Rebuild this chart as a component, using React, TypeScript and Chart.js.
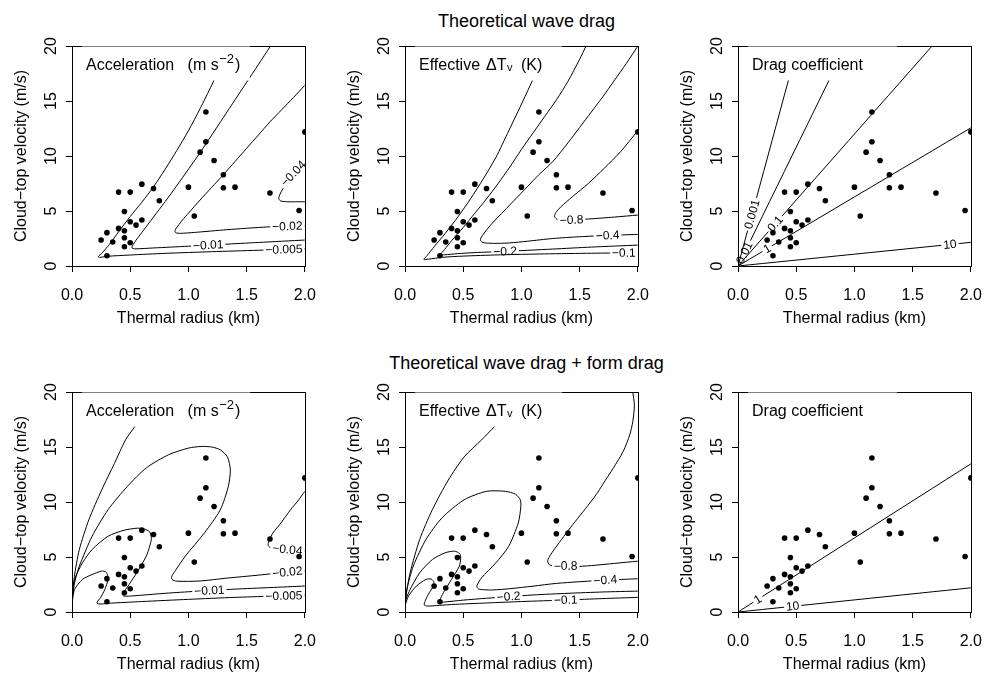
import React, { useEffect, useRef } from "react";
import { Chart, registerables } from "chart.js";

Chart.register(...registerables);

type Pt = [number, number];

const FONT = "'Liberation Sans', Arial, Helvetica, sans-serif";

// ---------------- observed thermals (same points in every panel) ----------------
const thermalRadiusKm = [
  0.25, 0.3, 0.35, 0.3, 0.4, 0.4, 0.45, 0.45, 0.45, 0.45, 0.5, 0.5, 0.5, 0.55, 0.6,
  0.6, 0.7, 0.75, 1.0, 1.05, 1.1, 1.15, 1.15, 1.22, 1.3, 1.3, 1.4, 1.7, 1.95, 2.0,
];
const cloudTopVelocity = [
  2.36, 3.03, 2.18, 0.93, 6.72, 3.42, 4.96, 3.21, 2.57, 1.75, 6.72, 4.02, 2.12, 3.72, 4.18,
  7.44, 7.05, 5.93, 7.17, 4.54, 10.35, 14.0, 11.29, 9.59, 8.29, 7.11, 7.17, 6.63, 5.05, 12.19,
];

// ---------------- axes ----------------
const xTickValues = [0, 0.5, 1.0, 1.5, 2.0];
const yTickValues = [0, 5, 10, 15, 20];
const xAxisTitle = "Thermal radius (km)";
const yAxisTitle = "Cloud\u2212top velocity (m/s)";
const rowTitles = ["Theoretical wave drag", "Theoretical wave drag + form drag"];

// ---------------- contours: theoretical wave drag ----------------
const accelWave005: Pt[] = [[1.25,17.6],[1.2,16.45],[1.1,14.3],[1.0,12.3],[0.9,10.5],[0.8,8.8],[0.7,7.2],[0.6,5.8],[0.5,4.5],[0.4,3.1],[0.32,1.95],[0.26,1.2],[0.225,0.85],[0.235,0.78],[0.3,0.88],[0.5,1.0],[0.8,1.15],[1.2,1.3],[1.6,1.43],[2.0,1.56]];
const accelWave01: Pt[] = [[1.705,20],[1.6,18.3],[1.5,16.7],[1.4,15.1],[1.3,13.5],[1.2,11.9],[1.1,10.3],[1.0,8.8],[0.9,7.3],[0.8,5.85],[0.7,4.45],[0.6,3.05],[0.55,2.35],[0.52,1.85],[0.515,1.64],[0.54,1.56],[0.7,1.64],[1.0,1.8],[1.3,1.97],[1.6,2.14],[2.0,2.36]];
const accelWave02: Pt[] = [[2.0,16.43],[1.9,15.3],[1.8,14.2],[1.7,13.1],[1.6,11.9],[1.5,10.7],[1.4,9.5],[1.3,8.3],[1.2,7.15],[1.1,6.0],[1.0,4.8],[0.95,4.2],[0.91,3.65],[0.885,3.25],[0.89,3.03],[0.93,2.97],[1.05,3.05],[1.33,3.3],[1.68,3.55],[2.0,3.66]];
const accelWave04: Pt[] = [[2.0,9.4],[1.95,8.95],[1.9,8.4],[1.85,7.65],[1.81,7.0],[1.785,6.5],[1.775,6.15],[1.79,5.92],[1.85,5.84],[1.92,5.84],[2.0,5.84]];

const dtvWave1: Pt[] = [[1.13,17.7],[1.095,16.88],[1.013,15.0],[0.891,12.29],[0.781,9.88],[0.672,7.92],[0.563,6.11],[0.454,4.46],[0.344,2.95],[0.25,1.75],[0.19,0.95],[0.162,0.6],[0.2,0.62],[0.32,0.79],[0.5,0.9],[0.8,1.01],[1.2,1.1],[1.6,1.16],[2.0,1.2]];
const dtvWave2: Pt[] = [[1.555,20],[1.5,18.8],[1.4,16.8],[1.3,15.1],[1.2,13.6],[1.1,12.1],[1.0,10.6],[0.9,9.0],[0.8,7.5],[0.7,6.1],[0.6,4.8],[0.5,3.5],[0.4,2.3],[0.34,1.5],[0.305,1.02],[0.34,1.02],[0.45,1.12],[0.6,1.22],[0.84,1.32],[1.27,1.54],[1.6,1.72],[2.0,1.9]];
const dtvWave4: Pt[] = [[2.0,20],[1.9,18.4],[1.8,16.9],[1.7,15.4],[1.6,14.0],[1.5,12.6],[1.4,11.2],[1.27,9.5],[1.15,8.3],[1.05,7.2],[0.95,6.1],[0.85,5.0],[0.75,3.9],[0.68,3.0],[0.652,2.55],[0.648,2.3],[0.67,2.13],[0.72,2.07],[0.8,2.06],[0.9,2.1],[1.05,2.25],[1.27,2.5],[1.5,2.66],[1.74,2.78],[2.0,2.87]];
const dtvWave8: Pt[] = [[2.0,12.3],[1.85,10.38],[1.71,8.87],[1.574,7.5],[1.437,6.29],[1.34,5.39],[1.295,4.85],[1.285,4.5],[1.31,4.22],[1.42,4.18],[1.574,4.27],[1.8,4.45],[2.0,4.63]];

const cdWave0001: Pt[] = [[0,0],[0.513,20]];
const cdWave001: Pt[] = [[0,0],[0.926,20]];
const cdWave01: Pt[] = [[0,0],[1.667,20]];
const cdWave1: Pt[] = [[0,0],[2.0,12.56]];
const cdWave10: Pt[] = [[0,0],[2.0,2.15]];

// ---------------- contours: wave drag + form drag ----------------
const accelFormTop: Pt[] = [[0,0.55],[0.005,1.5],[0.02,3.2],[0.063,5.68],[0.145,8.4],[0.255,11.1],[0.364,13.5],[0.46,15.65],[0.54,16.86],[0.6,17.8]];
const accelForm02: Pt[] = [[0,0.55],[0.008,1.75],[0.03,3.0],[0.063,4.17],[0.173,6.89],[0.31,9.3],[0.474,11.4],[0.638,13.1],[0.83,14.3],[1.0,14.9],[1.11,15.05],[1.2,15.0],[1.274,14.74],[1.335,14.1],[1.36,12.9],[1.342,11.4],[1.274,9.3],[1.137,7.19],[0.973,5.08],[0.89,3.8],[0.855,3.2],[0.86,2.95],[0.9,2.8],[1.1,2.82],[1.33,3.08],[1.6,3.35],[1.85,3.62],[2.0,3.72]];
const accelForm01: Pt[] = [[0,0.55],[0.005,1.5],[0.022,2.96],[0.09,4.47],[0.173,5.68],[0.31,6.89],[0.447,7.43],[0.56,7.62],[0.62,7.55],[0.666,7.3],[0.682,6.7],[0.665,5.9],[0.638,5.08],[0.556,3.56],[0.49,2.5],[0.45,1.9],[0.432,1.6],[0.445,1.45],[0.5,1.45],[0.6,1.53],[0.8,1.7],[1.06,1.88],[1.4,2.08],[1.7,2.22],[2.0,2.36]];
const accelForm005: Pt[] = [[0,0.55],[0.005,1.1],[0.022,2.05],[0.09,2.96],[0.173,3.41],[0.255,3.72],[0.29,3.65],[0.305,3.35],[0.31,2.96],[0.282,2.05],[0.245,1.3],[0.215,0.9],[0.22,0.75],[0.27,0.74],[0.31,0.79],[0.6,0.95],[1.0,1.15],[1.4,1.33],[1.7,1.43],[2.0,1.51]];
const accelForm04: Pt[] = [[2.0,10.97],[1.94,10.1],[1.877,9.3],[1.795,8.1],[1.726,7.19],[1.69,6.44],[1.685,6.04],[1.71,5.83],[1.85,5.68],[2.0,5.6]];

const dtvFormTop: Pt[] = [[0,0.55],[0.008,1.45],[0.044,3.56],[0.126,6.59],[0.235,9.3],[0.372,12.0],[0.508,14.1],[0.658,15.65],[0.769,16.86],[0.83,17.5]];
const dtvForm4: Pt[] = [[0,0.55],[0.016,2.05],[0.071,4.17],[0.18,6.59],[0.317,8.55],[0.508,10.2],[0.7,10.97],[0.863,10.97],[0.95,10.7],[0.99,10.2],[0.995,9.6],[0.973,8.1],[0.891,5.98],[0.781,4.47],[0.658,3.11],[0.617,2.36],[0.63,2.1],[0.68,2.02],[0.75,2.0],[0.9,2.12],[1.1,2.35],[1.3,2.6],[1.72,2.9],[2.0,3.02]];
const dtvForm2: Pt[] = [[0,0.55],[0.01,1.2],[0.044,2.05],[0.126,3.56],[0.235,4.77],[0.344,5.38],[0.426,5.53],[0.47,5.3],[0.478,4.9],[0.467,4.17],[0.399,2.96],[0.33,1.75],[0.3,1.1],[0.305,0.92],[0.33,0.9],[0.5,1.08],[0.7,1.25],[0.9,1.4],[1.1,1.55],[1.4,1.7],[1.7,1.82],[2.0,1.9]];
const dtvForm1: Pt[] = [[0,0.55],[0.03,1.45],[0.098,2.36],[0.18,2.96],[0.225,3.0],[0.249,2.7],[0.235,2.2],[0.208,1.75],[0.175,1.05],[0.165,0.65],[0.194,0.54],[0.4,0.68],[0.7,0.82],[1.0,0.95],[1.38,1.09],[1.7,1.22],[2.0,1.33]];
const dtvForm8: Pt[] = [[1.956,20],[1.97,18.8],[1.956,17.3],[1.93,16.1],[1.874,14.6],[1.79,13.1],[1.697,11.58],[1.642,10.67],[1.55,9.4],[1.46,8.2],[1.38,7.1],[1.31,6.1],[1.25,5.2],[1.225,4.65],[1.24,4.3],[1.3,4.12],[1.45,4.12],[1.6,4.22],[1.8,4.42],[2.0,4.62]];

const cdForm1: Pt[] = [[0,0],[2.0,13.47]];
const cdForm10: Pt[] = [[0,0],[2.0,2.2]];

// ---------------- contour labels (curve index, text, approximate spot) ----------------
type Lab = { curve: number; text: string; at: Pt };
const accelWaveLabels: Lab[] = [
  { curve: 0, text: "\u22120.005", at: [1.82, 1.5] },
  { curve: 1, text: "\u22120.01", at: [1.17, 1.88] },
  { curve: 2, text: "\u22120.02", at: [1.85, 3.6] },
  { curve: 3, text: "\u22120.04", at: [1.9, 8.4] },
];
const dtvWaveLabels: Lab[] = [
  { curve: 0, text: "\u22120.1", at: [1.88, 1.17] },
  { curve: 1, text: "\u22120.2", at: [0.86, 1.33] },
  { curve: 2, text: "\u22120.4", at: [1.74, 2.78] },
  { curve: 3, text: "\u22120.8", at: [1.43, 4.18] },
];
const cdWaveLabels: Lab[] = [
  { curve: 0, text: "0.001", at: [0.12, 4.7] },
  { curve: 1, text: "0.01", at: [0.055, 1.2] },
  { curve: 2, text: "0.1", at: [0.32, 3.84] },
  { curve: 3, text: "1", at: [0.25, 1.57] },
  { curve: 4, text: "10", at: [1.82, 1.96] },
];
const accelFormLabels: Lab[] = [
  { curve: 3, text: "\u22120.005", at: [1.82, 1.46] },
  { curve: 2, text: "\u22120.01", at: [1.18, 1.95] },
  { curve: 1, text: "\u22120.02", at: [1.85, 3.62] },
  { curve: 4, text: "\u22120.04", at: [1.85, 5.68] },
];
const dtvFormLabels: Lab[] = [
  { curve: 3, text: "\u22120.1", at: [1.38, 1.09] },
  { curve: 2, text: "\u22120.2", at: [0.89, 1.38] },
  { curve: 1, text: "\u22120.4", at: [1.72, 2.9] },
  { curve: 4, text: "\u22120.8", at: [1.38, 4.12] },
];
const cdFormLabels: Lab[] = [
  { curve: 0, text: "1", at: [0.17, 1.15] },
  { curve: 1, text: "10", at: [0.47, 0.52] },
];

type Kind = "accel" | "dtv" | "cd";
type PanelSpec = { kind: Kind; curves: Pt[][]; labels: Lab[] };

const panels: PanelSpec[] = [
  { kind: "accel", curves: [accelWave005, accelWave01, accelWave02, accelWave04], labels: accelWaveLabels },
  { kind: "dtv", curves: [dtvWave1, dtvWave2, dtvWave4, dtvWave8], labels: dtvWaveLabels },
  { kind: "cd", curves: [cdWave0001, cdWave001, cdWave01, cdWave1, cdWave10], labels: cdWaveLabels },
  { kind: "accel", curves: [accelFormTop, accelForm02, accelForm01, accelForm005, accelForm04], labels: accelFormLabels },
  { kind: "dtv", curves: [dtvFormTop, dtvForm4, dtvForm2, dtvForm1, dtvForm8], labels: dtvFormLabels },
  { kind: "cd", curves: [cdForm1, cdForm10], labels: cdFormLabels },
];

// ---------------- layout (pixels) ----------------
const CANVAS_W = 330;
const CANVAS_H = 301;
const colLeft = [0, 333, 666];
const rowTop = [30, 376];
const legendBoxRight: Record<Kind, number> = { accel: 178, dtv: 157, cd: 159 };
const LABEL_FONT = 12;

function placeLabel(chart: any, dsIndex: number, at: Pt) {
  const xs = chart.scales.x;
  const ys = chart.scales.y;
  const pts = chart.data.datasets[dsIndex].data as { x: number; y: number }[];
  const px = xs.getPixelForValue(at[0]);
  const py = ys.getPixelForValue(at[1]);
  let best = { d: Infinity, x: px, y: py, ang: 0 };
  for (let i = 0; i < pts.length - 1; i++) {
    const ax = xs.getPixelForValue(pts[i].x);
    const ay = ys.getPixelForValue(pts[i].y);
    const bx = xs.getPixelForValue(pts[i + 1].x);
    const by = ys.getPixelForValue(pts[i + 1].y);
    const dx = bx - ax;
    const dy = by - ay;
    const L = dx * dx + dy * dy;
    let t = L > 0 ? ((px - ax) * dx + (py - ay) * dy) / L : 0;
    t = Math.max(0, Math.min(1, t));
    const cx = ax + t * dx;
    const cy = ay + t * dy;
    const d = (px - cx) ** 2 + (py - cy) ** 2;
    if (d < best.d) best = { d, x: cx, y: cy, ang: Math.atan2(dy, dx) };
  }
  let a = best.ang;
  if (a > Math.PI / 2) a -= Math.PI;
  if (a <= -Math.PI / 2) a += Math.PI;
  return { x: best.x, y: best.y, ang: a };
}

function drawLegend(ctx: CanvasRenderingContext2D, L: number, T: number, kind: Kind) {
  ctx.save();
  ctx.fillStyle = "#fff";
  ctx.fillRect(L + 10, T + 0.5, legendBoxRight[kind] - 10, 34);
  ctx.fillStyle = "#000";
  ctx.textAlign = "left";
  ctx.textBaseline = "alphabetic";
  const base = T + 23.5;
  let x = L + 14;
  const big = `16px ${FONT}`;
  ctx.font = big;
  if (kind === "accel") {
    ctx.fillText("Acceleration", x, base);
    x += ctx.measureText("Acceleration").width + 13.5;
    ctx.fillText("(m s", x, base);
    x += ctx.measureText("(m s").width + 0.5;
    ctx.font = `13px ${FONT}`;
    ctx.fillText("\u22122", x, base - 6.5);
    x += ctx.measureText("\u22122").width + 1;
    ctx.font = big;
    ctx.fillText(")", x, base);
  } else if (kind === "dtv") {
    ctx.fillText("Effective ", x, base);
    x += ctx.measureText("Effective ").width + 1.5;
    ctx.fillText("\u0394T", x, base);
    x += ctx.measureText("\u0394T").width + 0.5;
    ctx.font = `11px ${FONT}`;
    ctx.fillText("v", x, base + 1.5);
    x += ctx.measureText("v").width + 8.5;
    ctx.font = big;
    ctx.fillText("(K)", x, base);
  } else {
    ctx.fillText("Drag coefficient", x, base);
  }
  ctx.restore();
}

function makeDecor(spec: PanelSpec) {
  return {
    id: "panelDecor",
    beforeDatasetsDraw(chart: any) {
      const { ctx, chartArea: a } = chart;
      const l = Math.round(a.left), r = Math.round(a.right), t = Math.round(a.top), b = Math.round(a.bottom);
      ctx.save();
      ctx.strokeStyle = "#000";
      ctx.lineWidth = 1;
      ctx.beginPath();
      ctx.moveTo(l, t + 0.5);
      ctx.lineTo(r + 1, t + 0.5);
      ctx.moveTo(r + 0.5, t);
      ctx.lineTo(r + 0.5, b + 1);
      ctx.stroke();
      ctx.font = `${LABEL_FONT}px ${FONT}`;
      chart.$contourLabels = spec.labels.map((lab) => {
        const p = placeLabel(chart, 1 + lab.curve, lab.at);
        return { ...p, w: ctx.measureText(lab.text).width, text: lab.text, ds: 1 + lab.curve };
      });
      ctx.restore();
    },
    beforeDatasetDraw(chart: any, args: any) {
      const labs = (chart.$contourLabels || []).filter((q: any) => q.ds === args.index);
      if (!labs.length) return;
      const ctx = chart.ctx;
      ctx.save();
      ctx.beginPath();
      ctx.rect(0, 0, chart.width, chart.height);
      for (const q of labs) {
        const hw = q.w / 2 + 2;
        const hh = 6;
        const c = Math.cos(q.ang), s = Math.sin(q.ang);
        const corners = [[-hw, -hh], [hw, -hh], [hw, hh], [-hw, hh]].map(([u, v]) => [q.x + u * c - v * s, q.y + u * s + v * c]);
        ctx.moveTo(corners[0][0], corners[0][1]);
        for (let k = 1; k < 4; k++) ctx.lineTo(corners[k][0], corners[k][1]);
        ctx.closePath();
      }
      ctx.clip("evenodd");
      chart.$clipOn = args.index;
    },
    afterDatasetDraw(chart: any, args: any) {
      if (chart.$clipOn === args.index) {
        chart.ctx.restore();
        chart.$clipOn = -1;
      }
    },
    afterDatasetsDraw(chart: any) {
      const { ctx, chartArea: a } = chart;
      ctx.save();
      ctx.fillStyle = "#000";
      ctx.font = `${LABEL_FONT}px ${FONT}`;
      ctx.textAlign = "center";
      ctx.textBaseline = "middle";
      for (const q of chart.$contourLabels || []) {
        ctx.save();
        ctx.translate(q.x, q.y);
        ctx.rotate(q.ang);
        ctx.fillText(q.text, 0, 0.5);
        ctx.restore();
      }
      ctx.restore();
      drawLegend(ctx, Math.round(a.left), Math.round(a.top), spec.kind);
    },
    afterDraw(chart: any) {
      // y tick labels, rotated like R's default (las = 0)
      const { ctx, chartArea: a } = chart;
      const ys = chart.scales.y;
      ctx.save();
      ctx.fillStyle = "#000";
      ctx.font = `16px ${FONT}`;
      ctx.textAlign = "center";
      ctx.textBaseline = "middle";
      for (const t of ys.ticks) {
        const py = ys.getPixelForValue(t.value);
        ctx.save();
        ctx.translate(a.left - 20.3, py);
        ctx.rotate(-Math.PI / 2);
        ctx.fillText(String(t.value), 0, 0);
        ctx.restore();
      }
      ctx.restore();
    },
  };
}

function Panel({ spec, left, top }: { spec: PanelSpec; left: number; top: number }) {
  const ref = useRef<HTMLCanvasElement>(null);
  useEffect(() => {
    const canvas = ref.current;
    if (!canvas) return;
    const pointsDs: any = {
      data: thermalRadiusKm.map((x, i) => ({ x, y: cloudTopVelocity[i] })),
      showLine: false,
      pointRadius: 2.8,
      pointBackgroundColor: "#000",
      pointBorderWidth: 0,
      pointStyle: "circle",
    };
    const curveDs: any[] = spec.curves.map((c) => ({
      data: c.map(([x, y]) => ({ x, y })),
      showLine: true,
      pointRadius: 0,
      borderColor: "#000",
      borderWidth: 1,
      tension: 0.25,
      fill: false,
    }));
    const tickFont = { family: FONT, size: 16 };
    const chart = new Chart(canvas, {
      type: "scatter",
      data: { datasets: [pointsDs, ...curveDs] },
      options: {
        responsive: false,
        animation: false,
        events: [],
        layout: { padding: { left: 0, top: 16, right: 15, bottom: 0 } },
        plugins: { legend: { display: false }, tooltip: { enabled: false }, title: { display: false } },
        scales: {
          x: {
            type: "linear",
            min: 0,
            max: 2,
            afterBuildTicks: (s: any) => {
              s.ticks = xTickValues.map((v) => ({ value: v }));
            },
            afterFit: (s: any) => {
              s.height = 65;
            },
            ticks: {
              color: "#000",
              font: tickFont,
              padding: 14,
              maxRotation: 0,
              autoSkip: false,
              callback: (v: any) => Number(v).toFixed(1),
            },
            grid: { drawOnChartArea: false, drawTicks: true, tickLength: 6, color: "#000", lineWidth: 1 },
            border: { display: true, color: "#000", width: 1 },
            title: { display: true, text: xAxisTitle, color: "#000", font: tickFont, padding: { top: 0, bottom: 3 } },
          },
          y: {
            type: "linear",
            min: 0,
            max: 20,
            afterBuildTicks: (s: any) => {
              s.ticks = yTickValues.map((v) => ({ value: v }));
            },
            afterFit: (s: any) => {
              s.width = 72;
            },
            ticks: { display: false },
            grid: { drawOnChartArea: false, drawTicks: true, tickLength: 6, color: "#000", lineWidth: 1 },
            border: { display: true, color: "#000", width: 1 },
            title: { display: true, text: yAxisTitle, color: "#000", font: tickFont, padding: { top: 12, bottom: 0 } },
          },
        },
      } as any,
      plugins: [makeDecor(spec) as any],
    });
    return () => chart.destroy();
  }, [spec]);
  return (
    <canvas
      ref={ref}
      width={CANVAS_W}
      height={CANVAS_H}
      style={{ position: "absolute", left, top, width: CANVAS_W, height: CANVAS_H }}
    />
  );
}

export default function App() {
  const titleStyle: React.CSSProperties = {
    position: "absolute",
    left: 326.5,
    width: 400,
    fontSize: 18,
    lineHeight: "20px",
    textAlign: "center",
    color: "#000",
    fontFamily: FONT,
    whiteSpace: "nowrap",
  };
  return (
    <div style={{ position: "absolute", left: 0, top: 0, width: 1007, height: 677, background: "#fff", overflow: "hidden" }}>
      <div style={{ ...titleStyle, top: 11 }}>{rowTitles[0]}</div>
      <div style={{ ...titleStyle, top: 353 }}>{rowTitles[1]}</div>
      {panels.map((p, i) => (
        <Panel key={i} spec={p} left={colLeft[i % 3]} top={rowTop[Math.floor(i / 3)]} />
      ))}
    </div>
  );
}
